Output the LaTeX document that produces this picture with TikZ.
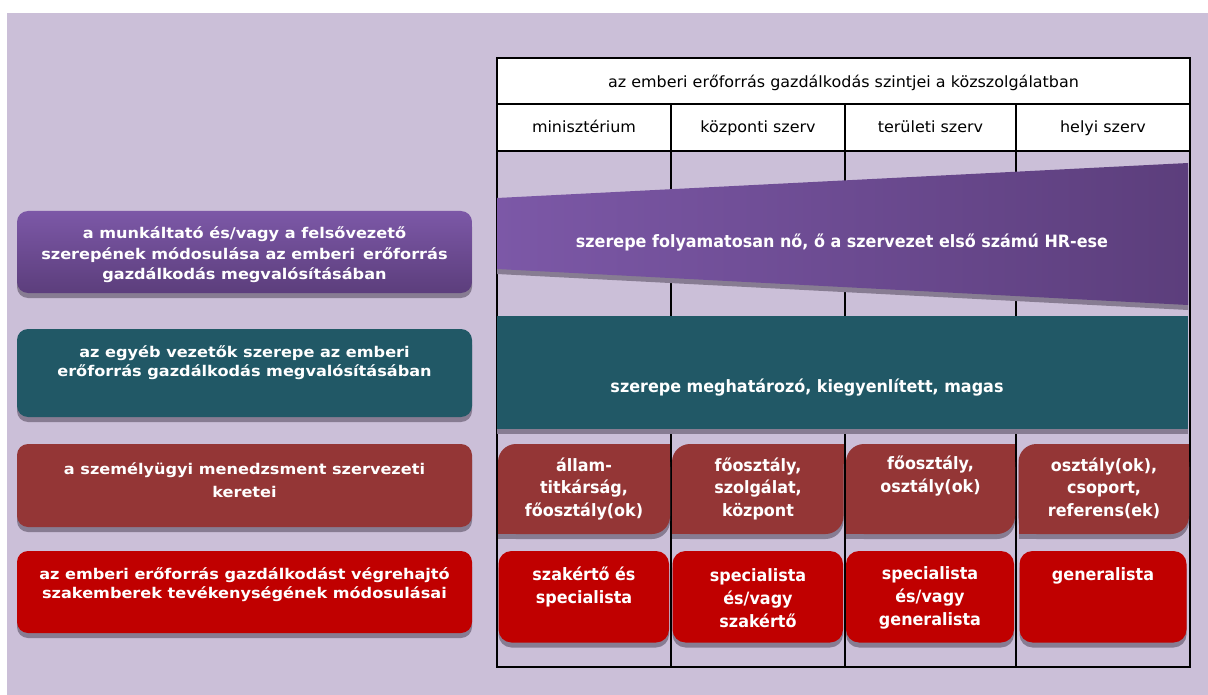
\documentclass[tikz,border=0pt]{standalone}
\usepackage{fontspec}
\setmainfont{DejaVu Sans}
\newfontfamily\wide[FakeStretch=1.09]{DejaVu Sans}
\newfontfamily\hdrf[FakeStretch=1.03]{DejaVu Sans}
\newfontfamily\cond[FakeStretch=0.94]{DejaVu Sans}
\definecolor{bglav}{HTML}{CBBFD8}
\definecolor{purpL}{HTML}{7C58A7}
\definecolor{purpD}{HTML}{5C3E7C}
\definecolor{tealc}{HTML}{215866}
\definecolor{brownc}{HTML}{943636}
\definecolor{redc}{HTML}{C00000}
\definecolor{shadowc}{HTML}{877C92}
\tikzset{
  lefttext/.style={text=white, align=center, inner sep=0pt, font=\wide\bfseries\fontsize{14.8}{20.5}\selectfont},
  hdrtext/.style={text=black, inner sep=0pt, text height=0.75em, text depth=0.2em, font=\hdrf\fontsize{15.5}{18}\selectfont},
  coltext/.style={text=white, align=center, inner sep=0pt, font=\cond\bfseries\fontsize{17}{22.5}\selectfont},
  bandtext/.style={text=white, inner sep=0pt, text height=0.75em, text depth=0.2em, font=\cond\bfseries\fontsize{17}{20}\selectfont},
  gridline/.style={line width=2pt, black},
  shadowfill/.style={fill=shadowc},
}
\begin{document}
\begin{tikzpicture}[x=1pt,y=-1pt]
\useasboundingbox (0,0) rectangle (1208,695);
\fill[white] (0,0) rectangle (1208,695);
\fill[bglav] (7,13) rectangle (1208,695);

% ---------- table grid ----------
\fill[white] (497,58) rectangle (1190,151);
\draw[gridline] (497,58) rectangle (1190,151);
\draw[gridline] (497,104) -- (1190,104);
\foreach \xx in {671,845,1016} \draw[gridline] (\xx,104) -- (\xx,667);
\draw[gridline] (497,58) -- (497,667) -- (1190,667) -- (1190,151);

\node[hdrtext] (hdr) at (843.5,84.5) {az emberi erőforrás gazdálkodás szintjei a közszolgálatban};
\node[hdrtext] (c1) at (584,130) {minisztérium};
\node[hdrtext] (c2) at (758,130) {központi szerv};
\node[hdrtext] (c3) at (930.5,130) {területi szerv};
\node[hdrtext] (c4) at (1103,130) {helyi szerv};

% ---------- left boxes ----------
\fill[shadowfill, rounded corners=11pt] (17,216) rectangle (472,298);
\shade[top color=purpL, bottom color=purpD, rounded corners=11pt] (17,211) rectangle (472,293);
\node[lefttext] (l1) at (244.5,255) {a munkáltató és/vagy a felsővezető\\szerepének módosulása az emberi\, erőforrás\\gazdálkodás megvalósításában};

\fill[shadowfill, rounded corners=11pt] (17,334) rectangle (472,422);
\fill[tealc, rounded corners=11pt] (17,329) rectangle (472,417);
\node[lefttext, font=\wide\bfseries\fontsize{14.8}{19}\selectfont] (l2) at (244.5,363) {az egyéb vezetők szerepe az emberi\\erőforrás gazdálkodás megvalósításában};

\fill[shadowfill, rounded corners=11pt] (17,449) rectangle (472,532);
\fill[brownc, rounded corners=11pt] (17,444) rectangle (472,527);
\node[lefttext, font=\wide\bfseries\fontsize{14.8}{23}\selectfont] (l3) at (244.5,480) {a személyügyi menedzsment szervezeti\\keretei};

\fill[shadowfill, rounded corners=11pt] (17,556) rectangle (472,638);
\fill[redc, rounded corners=11pt] (17,551) rectangle (472,633);
\node[lefttext, font=\wide\bfseries\fontsize{14.8}{19}\selectfont] (l4) at (244.5,584.5) {az emberi erőforrás gazdálkodást végrehajtó\\szakemberek tevékenységének módosulásai};

% ---------- purple trapezoid ----------
\fill[shadowc] (497,203) -- (1188,168) -- (1188,310) -- (497,274) -- cycle;
\shade[left color=purpL, right color=purpD] (497,198) -- (1188,163) -- (1188,305) -- (497,269) -- cycle;
\node[bandtext] (b1) at (842,245) {szerepe folyamatosan nő, ő a szervezet első számú HR-ese};

% ---------- teal band ----------
\fill[shadowc] (497,321) rectangle (1188,434);
\fill[tealc] (497,316) rectangle (1188,429);
\node[bandtext] (b2) at (807,389.5) {szerepe meghatározó, kiegyenlített, magas};

% ---------- brown column boxes ----------
\foreach \xa/\xb in {498/670, 672/843.5, 846/1015, 1018.5/1189} {
  \fill[shadowc, rounded corners=18pt] (\xa,449) rectangle (\xb,539);
  \fill[shadowc] (\xb-20,449) rectangle (\xb,469);
  \fill[shadowc] (\xa,519) rectangle (\xa+20,539);
  \fill[brownc, rounded corners=18pt] (\xa,444) rectangle (\xb,534);
  \fill[brownc] (\xb-20,444) rectangle (\xb,464);
  \fill[brownc] (\xa,514) rectangle (\xa+20,534);
}
\node[coltext] (m1) at (584,489) {állam-\\titkárság,\\főosztály(ok)};
\node[coltext] (m2) at (758,488.5) {főosztály,\\szolgálat,\\központ};
\node[coltext] (m3) at (930.5,476) {főosztály,\\osztály(ok)};
\node[coltext] (m4) at (1104,488) {osztály(ok),\\csoport,\\referens(ek)};

% ---------- red column boxes ----------
\foreach \xa/\xb in {498.5/669, 672.5/843, 846/1014, 1019.5/1186.5} {
  \fill[shadowc, rounded corners=13pt] (\xa,556) rectangle (\xb,647.5);
  \fill[redc, rounded corners=13pt] (\xa,551) rectangle (\xb,642.5);
}
\node[coltext, font=\cond\bfseries\fontsize{17}{23}\selectfont] (r1) at (584,586.5) {szakértő és\\specialista};
\node[coltext, font=\cond\bfseries\fontsize{17}{23}\selectfont] (r2) at (758,598) {specialista\\és/vagy\\szakértő};
\node[coltext, font=\cond\bfseries\fontsize{17}{23}\selectfont] (r3) at (930,598) {specialista\\és/vagy\\generalista};
\node[coltext, bandtext, align=center] (r4) at (1103,577.5) {generalista};
\end{tikzpicture}
\end{document}
